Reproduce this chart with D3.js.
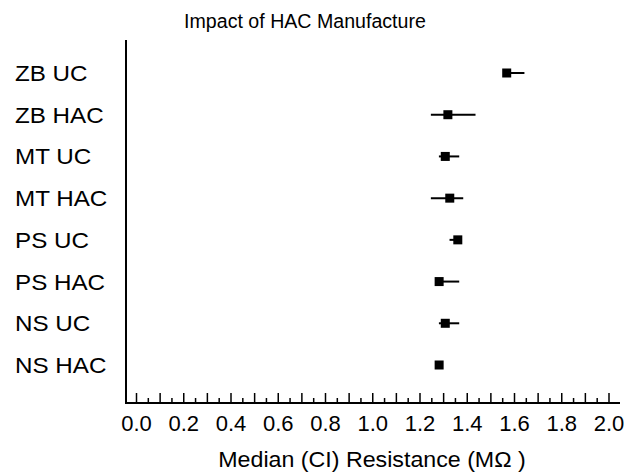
<!DOCTYPE html>
<html>
<head>
<meta charset="utf-8">
<script src="https://cdn.jsdelivr.net/npm/d3@7"></script>
<style>
html,body{margin:0;padding:0;background:#fff;}
svg{display:block;font-family:"Liberation Sans",Arial,sans-serif;}
</style>
</head>
<body>
<svg id="chart" width="639" height="473"></svg>
<script>
const categories = ["ZB UC","ZB HAC","MT UC","MT HAC","PS UC","PS HAC","NS UC","NS HAC"];
const medians = [1.567, 1.318, 1.307, 1.326, 1.360, 1.281, 1.307, 1.281];
const lowerCI = [1.555, 1.246, 1.280, 1.246, 1.325, 1.275, 1.280, 1.275];
const upperCI = [1.642, 1.435, 1.366, 1.383, 1.370, 1.366, 1.366, 1.290];
const tickLabels = ["0.0","0.2","0.4","0.6","0.8","1.0","1.2","1.4","1.6","1.8","2.0"];
const titleText = "Impact of HAC Manufacture";
const xTitleText = "Median (CI) Resistance (M\u03A9 )";

const svg = d3.select("#chart");
const x = d3.scaleLinear().domain([0, 2]).range([136.5, 609]);
const y = d3.scalePoint().domain(categories).range([73, 365]);

const axisX0 = 126, axisXEnd = 620, axisYTop = 40, axisYBottom = 403;

// title
svg.append("text").attr("x", 305).attr("y", 28).attr("text-anchor", "middle")
  .attr("font-size", 19.6).attr("fill", "#000").text(titleText);

// axes lines
svg.append("line").attr("x1", axisX0).attr("x2", axisX0).attr("y1", axisYTop).attr("y2", axisYBottom + 1)
  .attr("stroke", "#000").attr("stroke-width", 2);
svg.append("line").attr("x1", axisX0 - 1).attr("x2", axisXEnd).attr("y1", axisYBottom).attr("y2", axisYBottom)
  .attr("stroke", "#000").attr("stroke-width", 2);

// ticks: major every 0.1, minor every 0.05
const majors = d3.range(0, 21).map(i => i / 10);
const minors = d3.range(0, 20).map(i => i / 10 + 0.05);
svg.append("g").selectAll("line").data(majors).join("line")
  .attr("x1", d => x(d)).attr("x2", d => x(d))
  .attr("y1", axisYBottom).attr("y2", axisYBottom - 10)
  .attr("stroke", "#000").attr("stroke-width", 1.5);
svg.append("g").selectAll("line").data(minors).join("line")
  .attr("x1", d => x(d)).attr("x2", d => x(d))
  .attr("y1", axisYBottom).attr("y2", axisYBottom - 5)
  .attr("stroke", "#000").attr("stroke-width", 1.5);

// tick labels
svg.append("g").selectAll("text").data(tickLabels).join("text")
  .attr("x", d => x(+d)).attr("y", 431)
  .attr("text-anchor", "middle").attr("font-size", 22).attr("fill", "#000")
  .text(d => d);

// x title
svg.append("text").attr("transform", "translate(372,467) scale(1.08,1)").attr("text-anchor", "middle")
  .attr("font-size", 21.5).attr("fill", "#000").text(xTitleText);

// category labels
svg.append("g").selectAll("text").data(categories).join("text")
  .attr("transform", d => `translate(15,${y(d) + 8}) scale(1.1,1)`)
  .attr("font-size", 22).attr("fill", "#000").text(d => d);

// whiskers
const rows = categories.map((c, i) => ({c, m: medians[i], lo: lowerCI[i], hi: upperCI[i]}));
svg.append("g").selectAll("line").data(rows).join("line")
  .attr("x1", d => x(d.lo)).attr("x2", d => x(d.hi))
  .attr("y1", d => y(d.c)).attr("y2", d => y(d.c))
  .attr("stroke", "#000").attr("stroke-width", 2);
// squares
const s = 9;
svg.append("g").selectAll("rect").data(rows).join("rect")
  .attr("x", d => x(d.m) - s / 2).attr("y", d => y(d.c) - s / 2)
  .attr("width", s).attr("height", s).attr("fill", "#000");
</script>
</body>
</html>
